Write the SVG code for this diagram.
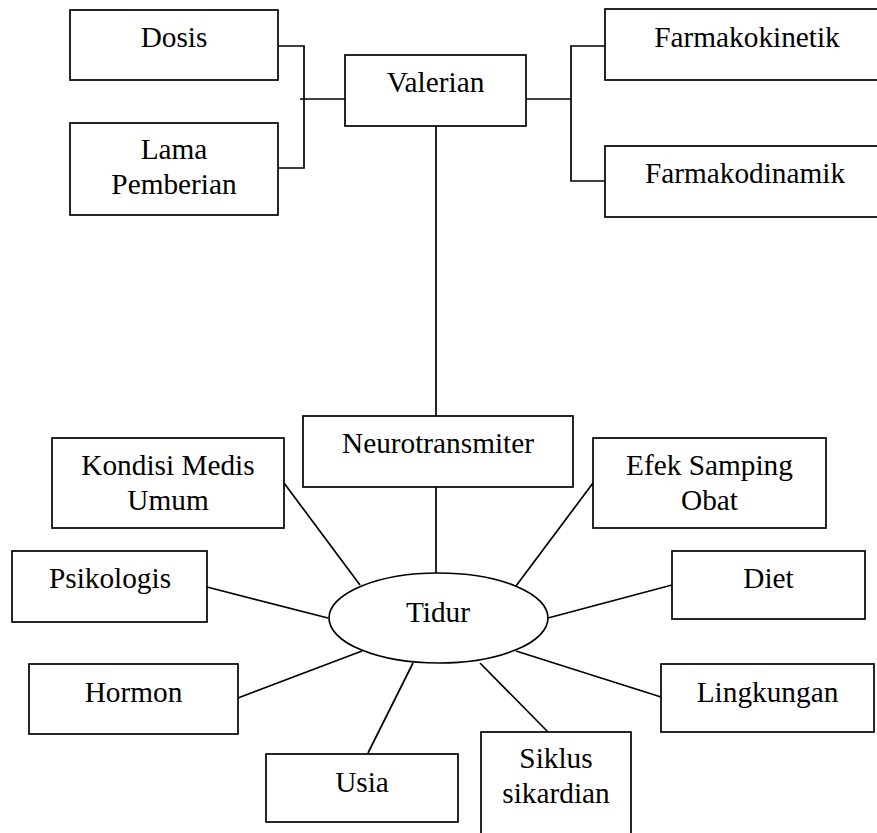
<svg xmlns="http://www.w3.org/2000/svg" width="877" height="833" viewBox="0 0 877 833">
<style>
.box{fill:#fff;stroke:#000;stroke-width:1.7}
.ln{fill:none;stroke:#000;stroke-width:1.7}
text{font-family:"Liberation Serif","Times New Roman",serif;font-size:29.3px;fill:#000;text-anchor:middle}
</style>
<rect width="877" height="833" fill="#fff"/>
<g id="connectors">
<polyline class="ln" points="278,46 304,46 304,168 278,168"/>
<line class="ln" x1="300" y1="99" x2="345" y2="99"/>
<line class="ln" x1="526" y1="99" x2="571" y2="99"/>
<polyline class="ln" points="605,46 571,46 571,181 605,181"/>
<line class="ln" x1="436" y1="126" x2="436" y2="416"/>
<line class="ln" x1="436" y1="484" x2="436" y2="574"/>
<line class="ln" x1="284" y1="483" x2="360" y2="585"/>
<line class="ln" x1="207" y1="587" x2="328" y2="618"/>
<line class="ln" x1="238" y1="698" x2="362" y2="651"/>
<line class="ln" x1="368" y1="753" x2="413" y2="663"/>
<line class="ln" x1="516" y1="586" x2="593" y2="483"/>
<line class="ln" x1="548" y1="618" x2="672" y2="585"/>
<line class="ln" x1="516" y1="651" x2="661" y2="697"/>
<line class="ln" x1="480" y1="663" x2="548" y2="732"/>
</g>
<g id="dosis"><rect class="box" x="70" y="10" width="208" height="70"/><text x="174" y="47">Dosis</text></g>
<g id="lama"><rect class="box" x="70" y="123" width="208" height="92"/><text x="174" y="159">Lama</text><text x="174" y="194">Pemberian</text></g>
<g id="valerian"><rect class="box" x="345" y="55" width="181" height="71"/><text x="435.5" y="92">Valerian</text></g>
<g id="farmakokinetik"><rect class="box" x="605" y="9" width="290" height="71"/><text x="747" y="47">Farmakokinetik</text></g>
<g id="farmakodinamik"><rect class="box" x="605" y="146" width="290" height="71"/><text x="745" y="183">Farmakodinamik</text></g>
<g id="neurotransmiter"><rect class="box" x="303" y="416" width="270" height="71"/><text x="438" y="453">Neurotransmiter</text></g>
<g id="kondisi"><rect class="box" x="52" y="438" width="232" height="90"/><text x="168" y="475">Kondisi Medis</text><text x="168" y="510">Umum</text></g>
<g id="efek"><rect class="box" x="593" y="438" width="233" height="90"/><text x="709.5" y="475">Efek Samping</text><text x="709.5" y="510">Obat</text></g>
<g id="psikologis"><rect class="box" x="12" y="551" width="195" height="71"/><text x="110" y="588">Psikologis</text></g>
<g id="diet"><rect class="box" x="672" y="551" width="193" height="68"/><text x="768.5" y="588">Diet</text></g>
<g id="tidur"><ellipse class="box" cx="438.5" cy="618" rx="109.5" ry="45"/><text x="438" y="622">Tidur</text></g>
<g id="hormon"><rect class="box" x="29" y="664" width="209" height="70"/><text x="133.5" y="702">Hormon</text></g>
<g id="lingkungan"><rect class="box" x="661" y="664" width="213" height="68"/><text x="767.5" y="702">Lingkungan</text></g>
<g id="usia"><rect class="box" x="266" y="754" width="192" height="68"/><text x="362" y="792">Usia</text></g>
<g id="siklus"><rect class="box" x="481" y="732" width="150" height="120"/><text x="556" y="768">Siklus</text><text x="556" y="803">sikardian</text></g>
</svg>
